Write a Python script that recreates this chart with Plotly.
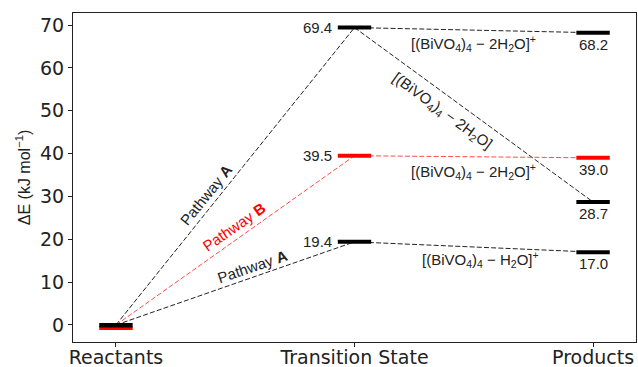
import plotly.graph_objects as go

# ---- data ----
stages = ["Reactants", "Transition State", "Products"]
stage_x = [0, 1, 2]
reactant_E = [0.0, 0.0]                 # black, red
ts_E = [69.4, 39.5, 19.4]               # pathway A (upper), pathway B, pathway A (lower)
prod_from_ts = [[68.2, 28.7], [39.0], [17.0]]
ts_colors = ["black", "red", "black"]
ts_labels = ["69.4", "39.5", "19.4"]
prod_values = [68.2, 39.0, 28.7, 17.0]
prod_colors = ["black", "red", "black", "black"]
y_ticks = [0, 10, 20, 30, 40, 50, 60, 70]

HALF = 0.07
fig = go.Figure()

dash = "5px,2.2px"
# connecting lines (center to center)
for i, e in enumerate(ts_E):
    col = ts_colors[i]
    lc = "#ff4d4d" if col == "red" else "#222222"
    fig.add_trace(go.Scatter(x=[stage_x[0], stage_x[1]], y=[reactant_E[0], e], mode="lines",
                             line=dict(color=lc, width=1, dash=dash), hoverinfo="skip", showlegend=False))
    for p in prod_from_ts[i]:
        fig.add_trace(go.Scatter(x=[stage_x[1], stage_x[2]], y=[e, p], mode="lines",
                                 line=dict(color=lc, width=1, dash=dash), hoverinfo="skip", showlegend=False))

shapes = []
def bar(xc, yv, color, p0=-2, p1=2):
    shapes.append(dict(type="rect", xref="x", yref="y", x0=xc - HALF, x1=xc + HALF,
                       ysizemode="pixel", yanchor=yv, y0=p0, y1=p1,
                       fillcolor=color, line=dict(width=0), layer="above"))

# reactant bars (red slightly below black)
bar(stage_x[0], reactant_E[1], "red", -5, -1)
bar(stage_x[0], reactant_E[0], "black", -2.5, 2)
for e, c in zip(ts_E, ts_colors):
    bar(stage_x[1], e, c)
for v, c in zip(prod_values, prod_colors):
    bar(stage_x[2], v, c)

FONT = "Liberation Sans, Arial, sans-serif"
FS = 15
ann = []
for e, lab in zip(ts_E, ts_labels):
    ann.append(dict(x=stage_x[1] - HALF, y=e, text=lab, showarrow=False, xanchor="right",
                    yanchor="middle", xshift=-4, font=dict(size=FS, color="#222")))
for v in prod_values:
    ann.append(dict(x=stage_x[2], y=v, text=f"{v:.1f}", showarrow=False, xanchor="center",
                    yanchor="top", yshift=-1, font=dict(size=FS, color="#222")))

sp = "[(BiVO<sub>4</sub>)<sub>4</sub> − 2H<sub>2</sub>O]<sup>+</sup>"
sp1 = "[(BiVO<sub>4</sub>)<sub>4</sub> − H<sub>2</sub>O]<sup>+</sup>"
ann.append(dict(x=1.5, y=(ts_E[0] + prod_from_ts[0][0]) / 2, text=sp, showarrow=False,
                yanchor="top", yshift=-1, font=dict(size=FS, color="#222")))
ann.append(dict(x=1.5, y=(ts_E[1] + prod_from_ts[1][0]) / 2, text=sp, showarrow=False,
                yanchor="top", yshift=-2, font=dict(size=FS, color="#222")))
ann.append(dict(x=1.5, y=(ts_E[2] + prod_from_ts[2][0]) / 2, text=sp1, showarrow=False,
                yanchor="top", yshift=0, xshift=7, font=dict(size=FS, color="#222")))
# diagonal label
t = 0.37
ann.append(dict(x=1 + t, y=ts_E[0] + t * (prod_from_ts[0][1] - ts_E[0]),
                text="[(BiVO<sub>4</sub>)<sub>4</sub> − 2H<sub>2</sub>O]", showarrow=False,
                textangle=36, yshift=-19, xshift=0, font=dict(size=FS, color="#222")))
# pathway labels
pw = [("Pathway <b>A</b>", 0, 0.38, -51, "#222", 0, 17),
      ("Pathway <b>B</b>", 1, 0.485, -35, "red", 3, 16),
      ("Pathway <b>A</b>", 2, 0.56, -19, "#222", 3, 12)]
for text, i, tt, ang, col, xs, ys in pw:
    ann.append(dict(x=tt, y=tt * ts_E[i], text=text, showarrow=False, textangle=ang,
                    xshift=xs, yshift=ys, font=dict(size=FS, color=col)))

fig.update_layout(
    width=638, height=367,
    margin=dict(l=73, r=2, t=13, b=25),
    paper_bgcolor="white", plot_bgcolor="white",
    font=dict(family=FONT, color="#222"),
    shapes=shapes, annotations=ann, showlegend=False,
)
fig.update_xaxes(range=[-0.18, 2.18], tickvals=stage_x, ticktext=stages, showgrid=False, zeroline=False,
                 showline=True, linecolor="#222", linewidth=1.2, mirror=True, ticks="outside",
                 ticklen=4, tickcolor="#222", automargin=False, ticklabelstandoff=-6,
                 tickfont=dict(family="DejaVu Sans", size=19, color="#222"))
fig.update_yaxes(range=[-3.97, 72.8], tickvals=y_ticks, showgrid=False, zeroline=False,
                 showline=True, linecolor="#222", linewidth=1.2, mirror=True, ticks="outside",
                 ticklen=4, tickcolor="#222", automargin=True,
                 tickfont=dict(family="DejaVu Sans", size=19, color="#222"),
                 title=dict(text="ΔE (kJ mol<sup>−1</sup>)", standoff=5,
                            font=dict(family=FONT, size=16, color="#222")))

fig.write_html("out.html", config={"displayModeBar": False},
               post_script="document.body.style.margin='0';document.body.style.overflow='hidden';")
